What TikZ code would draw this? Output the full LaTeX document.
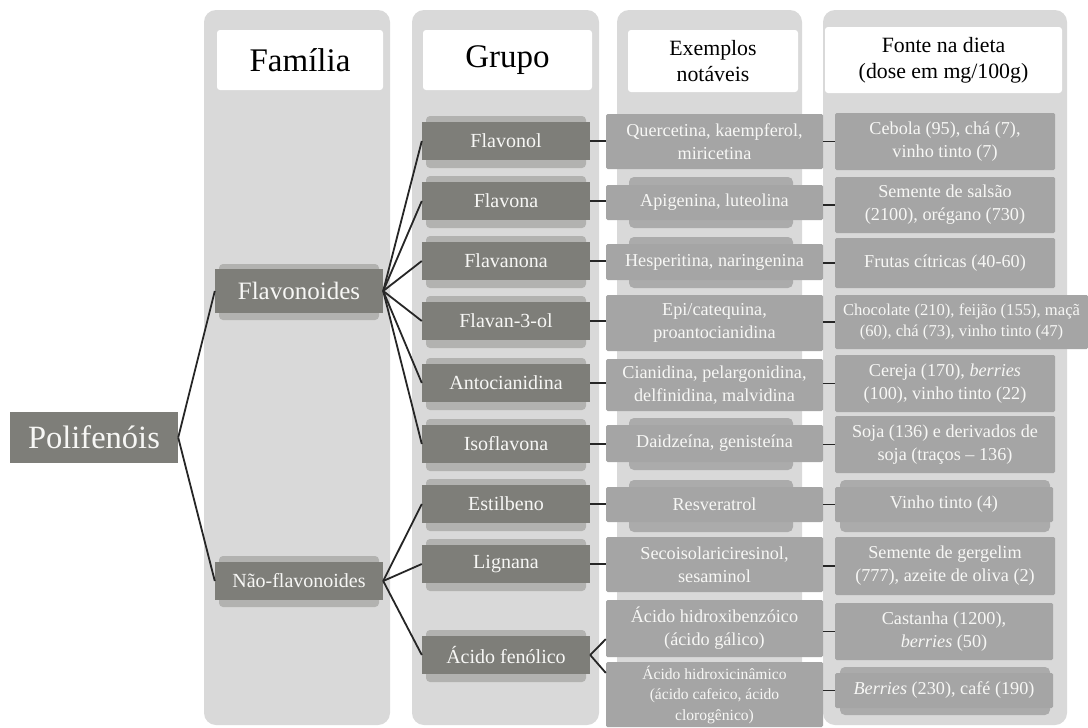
\documentclass[tikz,border=0pt]{standalone}
\usepackage{fontspec}
\setmainfont{Liberation Serif}
\usetikzlibrary{calc}

\definecolor{panelgrey}{HTML}{D9D9D9}
\definecolor{darkfill}{HTML}{7E7E79}
\definecolor{darkback}{HTML}{B2B2B0}
\definecolor{midfill}{HTML}{A5A5A5}
\definecolor{midback}{HTML}{ABABAB}
\definecolor{lighttext}{HTML}{F7F7F5}
\definecolor{linkcol}{HTML}{262626}

\tikzset{
  panel/.style={fill=panelgrey, rounded corners=12pt},
  headbox/.style={fill=white, rounded corners=3pt, inner sep=0pt, align=center, text=black},
  darkbox/.style={fill=darkfill, inner sep=0pt, align=center, text=lighttext},
  midbox/.style={fill=midfill, inner sep=0pt, align=center, text=lighttext, rounded corners=1.5pt},
  darkshade/.style={fill=darkback, rounded corners=4pt},
  midshade/.style={fill=midback, rounded corners=5pt},
  link/.style={draw=linkcol, line width=1.8pt},
  fhead/.style={font=\fontsize{33}{36}\selectfont},
  fsub/.style={font=\fontsize{21.8}{26}\selectfont},
  froot/.style={font=\fontsize{32.5}{36}\selectfont},
  ffam/.style={font=\fontsize{25}{28}\selectfont},
  fgrp/.style={font=\fontsize{20}{23}\selectfont},
  fitem/.style={font=\fontsize{18.2}{23}\selectfont},
  fsmall/.style={font=\fontsize{16.6}{21}\selectfont},
  ftiny/.style={font=\fontsize{15.6}{20.5}\selectfont},
}

% box from its corners: style, name, x1, y1, x2, y2, text
\newcommand\mkbox[7]{%
  \pgfmathsetmacro\bw{#5-#3}\pgfmathsetmacro\bh{#6-#4}%
  \pgfmathsetmacro\bx{(#3+#5)/2}\pgfmathsetmacro\by{(#4+#6)/2}%
  \node[#1, minimum width=\bw pt, minimum height=\bh pt] (#2) at (\bx,\by) {#7};}

\begin{document}
\begin{tikzpicture}[x=1pt, y=-1pt]
\useasboundingbox (0,0) rectangle (1088,728);
\fill[white] (0,0) rectangle (1088,728);

% column panels
\fill[panel] (204,10) rectangle (390,725);
\fill[panel] (412,10) rectangle (599,725);
\fill[panel] (617,10) rectangle (802,725);
\fill[panel] (823,10) rectangle (1067,725);

% column headings
\mkbox{headbox,fhead}{h1}{217}{30}{383}{90}{Família}
\mkbox{headbox,fhead}{h2}{423}{30}{592}{90}{Grupo}
\mkbox{headbox,fsub}{h3}{628}{30}{798}{92}{Exemplos\\notáveis}
\mkbox{headbox,fsub}{h4}{825}{27}{1062}{93}{Fonte na dieta\\(dose em mg/100g)}

% soft backing plates
\fill[darkshade] (219,264) rectangle (379,320);
\fill[darkshade] (219,556) rectangle (379,607);
\foreach \c in {141,201,261,321,383,444,504,564,655}
  \fill[darkshade] (426,\c-25) rectangle (586,\c+27);
\fill[midshade] (629,177) rectangle (793,228);
\fill[midshade] (629,237) rectangle (793,288);
\fill[midshade] (629,418) rectangle (793,470);
\fill[midshade] (629,480) rectangle (793,532);
\fill[midshade] (840,480) rectangle (1050,532);
\fill[midshade] (840,667) rectangle (1050,715);

% root and families
\mkbox{darkbox,froot}{root}{10}{412}{178}{463}{Polifenóis}
\mkbox{darkbox,ffam}{flav}{215}{269}{383}{313}{Flavonoides}
\mkbox{darkbox,fgrp}{nflav}{215}{562}{383}{600}{Não-flavonoides}

% groups
\mkbox{darkbox,fgrp}{g1}{422}{122}{590}{160}{Flavonol}
\mkbox{darkbox,fgrp}{g2}{422}{182}{590}{220}{Flavona}
\mkbox{darkbox,fgrp}{g3}{422}{242}{590}{280}{Flavanona}
\mkbox{darkbox,fgrp}{g4}{422}{302}{590}{340}{Flavan-3-ol}
\mkbox{darkbox,fgrp}{g5}{422}{364}{590}{402}{Antocianidina}
\mkbox{darkbox,fgrp}{g6}{422}{425}{590}{463}{Isoflavona}
\mkbox{darkbox,fgrp}{g7}{422}{485}{590}{523}{Estilbeno}
\mkbox{darkbox,fgrp}{g8}{422}{545}{590}{583}{Lignana}
\mkbox{darkbox,fgrp}{g9}{422}{636}{590}{674}{Ácido fenólico}

% notable examples
\mkbox{midbox,fitem}{e1}{606}{114}{823}{169}{Quercetina, kaempferol,\\miricetina}
\mkbox{midbox,fitem}{e2}{606}{185}{823}{220}{Apigenina, luteolina}
\mkbox{midbox,fitem}{e3}{606}{244}{823}{280}{Hesperitina, naringenina}
\mkbox{midbox,fitem}{e4}{606}{295}{823}{351}{Epi/catequina,\\proantocianidina}
\mkbox{midbox,fitem}{e5}{606}{359}{823}{411}{Cianidina, pelargonidina,\\delfinidina, malvidina}
\mkbox{midbox,fitem}{e6}{606}{425}{823}{462}{Daidzeína, genisteína}
\mkbox{midbox,fitem}{e7}{606}{487}{823}{522}{Resveratrol}
\mkbox{midbox,fitem}{e8}{606}{537}{823}{592}{Secoisolariciresinol,\\sesaminol}
\mkbox{midbox,fitem}{e9}{606}{600}{823}{657}{Ácido hidroxibenzóico\\(ácido gálico)}
\mkbox{midbox,ftiny}{e10}{606}{662}{823}{727}{Ácido hidroxicinâmico\\(ácido cafeico, ácido\\clorogênico)}

% dietary sources
\mkbox{midbox,fitem}{s1}{835}{113}{1055}{170}{Cebola (95), chá (7),\\vinho tinto (7)}
\mkbox{midbox,fitem}{s2}{835}{177}{1055}{233}{Semente de salsão\\(2100), orégano (730)}
\mkbox{midbox,fitem}{s3}{835}{238}{1055}{288}{Frutas cítricas (40-60)}
\mkbox{midbox,fsmall}{s4}{835}{295}{1088}{349}{Chocolate (210), feijão (155), maçã\\(60), chá (73), vinho tinto (47)}
\mkbox{midbox,fitem}{s5}{835}{355}{1055}{412}{Cereja (170), \textit{berries}\\(100), vinho tinto (22)}
\mkbox{midbox,fitem}{s6}{835}{416}{1055}{473}{Soja (136) e derivados de\\soja (traços – 136)}
\mkbox{midbox,fitem}{s7}{835}{487}{1053}{522}{Vinho tinto (4)}
\mkbox{midbox,fitem}{s8}{835}{537}{1055}{595}{Semente de gergelim\\(777), azeite de oliva (2)}
\mkbox{midbox,fitem}{s9}{835}{603}{1053}{660}{Castanha (1200),\\\textit{berries} (50)}
\mkbox{midbox,fitem}{s10}{835}{673}{1053}{708}{\textit{Berries} (230), café (190)}

% hierarchy links
\draw[link] (root.east) -- (flav.west);
\draw[link] (root.east) -- (nflav.west);
\foreach \g in {g1,g2,g3,g4,g5,g6}
  \draw[link] (flav.east) -- (\g.west);
\foreach \g in {g7,g8,g9}
  \draw[link] (nflav.east) -- (\g.west);
\draw[link] (g9.east) -- ($(e9.west)!0.37!(e9.south west)$);
\draw[link] (g9.east) -- ($(e10.west)!0.66!(e10.north west)$);

% group to example links
\foreach \i in {1,...,8}
  \draw[link] (g\i.east) -- (g\i.east -| e\i.west);

% example to source links
\foreach \i in {1,...,10}
  \draw[link] (s\i.west) -- (s\i.west -| e\i.east);
\end{tikzpicture}
\end{document}
